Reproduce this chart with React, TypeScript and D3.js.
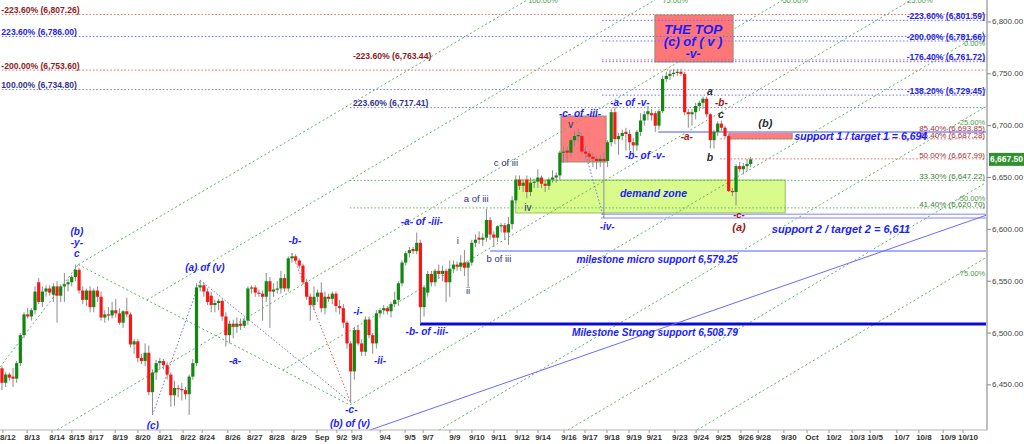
import React from "react";
import * as d3 from "d3";

type Candle = [number, number, number, number]; // open, high, low, close

const candles: Candle[] = [
  [6466,6468,6445,6452],[6452,6462,6448,6460],[6460,6462,6454,6457],[6458,6466,6448,6456],[6456,6473,6452,6471],
  [6471,6500,6468,6498],[6498,6520,6495,6518],[6518,6524,6514,6516],[6516,6524,6512,6522],[6522,6545,6518,6540],
  [6549,6553,6528,6530],[6530,6545,6525,6540],[6540,6546,6535,6543],[6543,6546,6536,6539],[6537,6548,6530,6545],
  [6545,6550,6510,6536],[6536,6547,6530,6545],[6545,6558,6530,6547],[6547,6552,6540,6549],[6549,6556,6545,6554],
  [6554,6566,6550,6561],[6561,6563,6538,6541],[6541,6545,6528,6532],[6532,6543,6526,6541],[6541,6545,6520,6525],
  [6525,6543,6520,6541],[6541,6545,6530,6535],[6535,6540,6512,6515],[6515,6522,6510,6518],[6518,6525,6512,6517],
  [6517,6530,6514,6522],[6522,6533,6515,6519],[6519,6524,6508,6510],[6510,6522,6505,6521],[6521,6534,6515,6518],
  [6518,6520,6486,6489],[6489,6494,6480,6492],[6492,6494,6472,6476],[6476,6480,6470,6473],[6473,6490,6468,6481],
  [6481,6488,6440,6443],[6443,6465,6421,6462],[6462,6474,6455,6471],[6471,6476,6465,6473],[6473,6475,6465,6469],
  [6469,6472,6455,6460],[6460,6462,6429,6440],[6440,6454,6430,6447],[6447,6450,6438,6446],[6446,6452,6435,6445],
  [6445,6448,6436,6441],[6441,6460,6421,6458],[6458,6475,6455,6471],[6471,6548,6468,6544],[6544,6551,6540,6546],
  [6546,6549,6535,6540],[6540,6543,6527,6530],[6536,6540,6520,6527],[6527,6532,6520,6529],[6529,6533,6522,6531],
  [6531,6533,6512,6516],[6516,6520,6487,6498],[6498,6512,6490,6509],[6509,6513,6495,6506],[6506,6515,6500,6509],
  [6509,6514,6503,6507],[6507,6515,6505,6512],[6512,6545,6508,6543],[6543,6546,6538,6544],[6544,6546,6535,6539],
  [6539,6542,6535,6538],[6538,6541,6512,6535],[6535,6558,6530,6550],[6550,6554,6505,6540],[6540,6548,6535,6542],
  [6542,6550,6538,6543],[6543,6560,6538,6553],[6553,6557,6540,6543],[6543,6574,6540,6572],[6572,6577,6568,6574],
  [6574,6576,6568,6570],[6570,6572,6562,6565],[6565,6567,6547,6549],[6549,6552,6532,6535],[6535,6538,6512,6527],
  [6527,6545,6522,6535],[6535,6542,6530,6539],[6539,6549,6520,6524],[6524,6540,6518,6535],[6535,6538,6530,6533],
  [6533,6540,6528,6538],[6538,6540,6520,6526],[6526,6532,6518,6524],[6524,6528,6505,6510],[6510,6512,6485,6490],
  [6490,6492,6433,6463],[6463,6506,6455,6503],[6503,6508,6488,6490],[6490,6494,6478,6482],[6482,6516,6478,6513],
  [6513,6516,6495,6498],[6498,6500,6480,6490],[6490,6522,6485,6519],[6519,6524,6515,6522],[6522,6527,6518,6524],
  [6524,6526,6518,6521],[6521,6530,6515,6528],[6528,6540,6525,6532],[6532,6550,6526,6548],[6548,6570,6545,6568],
  [6568,6579,6565,6577],[6577,6583,6573,6580],[6581,6583,6576,6579],[6579,6597,6576,6587],[6587,6590,6509,6525],
  [6525,6546,6516,6544],[6539,6560,6535,6557],[6557,6560,6545,6549],[6549,6562,6545,6560],[6560,6566,6553,6557],
  [6557,6565,6550,6560],[6560,6562,6530,6549],[6549,6570,6535,6562],[6562,6570,6558,6566],[6566,6569,6560,6564],
  [6564,6575,6560,6568],[6568,6580,6555,6563],[6563,6570,6544,6568],[6568,6590,6565,6587],[6587,6595,6583,6590],
  [6592,6598,6586,6590],[6590,6596,6584,6592],[6592,6620,6588,6609],[6609,6612,6590,6595],[6595,6598,6583,6592],
  [6592,6604,6588,6603],[6603,6606,6597,6604],[6604,6606,6590,6597],[6597,6612,6585,6605],[6605,6632,6600,6628],
  [6628,6652,6625,6648],[6648,6652,6638,6642],[6642,6648,6636,6645],[6648,6652,6630,6636],[6636,6650,6632,6645],
  [6645,6649,6640,6646],[6646,6658,6640,6650],[6650,6652,6640,6644],[6644,6648,6636,6642],[6642,6650,6638,6648],
  [6648,6657,6645,6650],[6650,6655,6645,6652],[6652,6676,6648,6674],[6674,6680,6664,6675],[6676,6680,6665,6674],
  [6674,6688,6670,6686],[6686,6695,6680,6690],[6690,6697,6684,6691],[6690,6693,6672,6675],[6675,6680,6668,6673],
  [6673,6676,6664,6670],[6670,6674,6660,6668],[6668,6672,6658,6666],[6666,6672,6660,6668],[6668,6674,6611,6666],
  [6666,6686,6660,6684],[6684,6716,6680,6713],[6713,6718,6682,6687],[6687,6693,6672,6690],[6690,6696,6686,6693],
  [6694,6698,6676,6692],[6692,6696,6676,6684],[6684,6688,6672,6681],[6681,6696,6676,6694],[6694,6712,6690,6705],
  [6705,6714,6700,6711],[6711,6719,6705,6714],[6712,6716,6705,6710],[6712,6714,6694,6700],[6700,6716,6696,6714],
  [6714,6748,6712,6745],[6745,6752,6742,6748],[6748,6754,6744,6750],[6750,6755,6747,6751],[6751,6755,6748,6752],
  [6752,6755,6748,6750],[6750,6752,6710,6713],[6713,6716,6698,6711],[6711,6716,6700,6713],[6713,6722,6706,6719],
  [6719,6724,6714,6722],[6722,6728,6716,6726],[6726,6728,6708,6711],[6711,6712,6678,6686],[6686,6696,6678,6694],
  [6694,6704,6690,6702],[6702,6705,6694,6698],[6698,6700,6688,6690],[6690,6692,6636,6637],[6637,6640,6632,6636],
  [6636,6663,6623,6661],[6661,6665,6655,6658],[6658,6664,6653,6661],[6661,6668,6656,6663],[6663,6670,6660,6667.5],
];

const dateTicks: [number, string][] = [
  [1.6,"8/12"],[8.2,"8/13"],[15,"8/14"],[20.4,"8/15"],[25.6,"8/17"],[32.2,"8/19"],[38.4,"8/20"],[44.4,"8/21"],
  [50.7,"8/22"],[55.9,"8/24"],[62.9,"8/26"],[68.9,"8/27"],[74.9,"8/28"],[80.9,"8/29"],[87.2,"Sep"],[92.6,"9/2"],
  [96.7,"9/3"],[104.4,"9/4"],[111.2,"9/5"],[116.1,"9/7"],[123.4,"9/9"],[129.4,"9/10"],[135.4,"9/11"],[141.7,"9/12"],
  [147.4,"9/14"],[154.5,"9/16"],[160.2,"9/17"],[166.2,"9/18"],[172.2,"9/19"],[177.7,"9/21"],[184.7,"9/23"],
  [190.5,"9/24"],[196.5,"9/25"],[202.7,"9/26"],[207.4,"9/28"],[214.4,"9/30"],[220.7,"Oct"],[226.7,"10/2"],
  [233,"10/3"],[237.9,"10/5"],[245.2,"10/7"],[251.2,"10/8"],[257.8,"10/9"],[263.2,"10/10"],
];

const priceTicks: number[] = [6450, 6500, 6550, 6600, 6650, 6700, 6750, 6800];
const lastPrice = 6667.5;

const RED_DOT = "#e06a6a", BLUE_DOT = "#6e6eff", NAVY_DOT = "#7a7ac8", GREEN_DOT = "#62b562";
const BLUE = "#1c1cff", NAVY = "#30307a", DRED = "#a31515", DARK = "#2a2a2a";

type Fib = { price: number; from: number; stroke: string; label: string; lc: string; side: "left" | "right"; at?: number; size: number; bold: boolean };
const fibLines: Fib[] = [
  { price: 6807.26, from: -1, stroke: RED_DOT, label: "-223.60% (6,807.26)", lc: "#8e1b1b", side: "left", at: -1, size: 8.6, bold: true },
  { price: 6786.0, from: -1, stroke: BLUE_DOT, label: "223.60% (6,786.00)", lc: "#2424e6", side: "left", at: -1, size: 8.6, bold: true },
  { price: 6753.6, from: -1, stroke: RED_DOT, label: "-200.00% (6,753.60)", lc: "#8e1b1b", side: "left", at: -1, size: 8.6, bold: true },
  { price: 6734.8, from: -1, stroke: NAVY_DOT, label: "100.00% (6,734.80)", lc: "#34348c", side: "left", at: -1, size: 8.6, bold: true },
  { price: 6763.44, from: 163.5, stroke: RED_DOT, label: "-223.60% (6,763.44)", lc: "#8e1b1b", side: "left", at: 94.8, size: 8.6, bold: true },
  { price: 6717.41, from: 94.8, stroke: NAVY_DOT, label: "223.60% (6,717.41)", lc: "#34348c", side: "left", at: 94.8, size: 8.6, bold: true },
  { price: 6801.59, from: 163.5, stroke: BLUE_DOT, label: "-223.60% (6,801.59)", lc: "#2424e6", side: "right", size: 8.6, bold: true },
  { price: 6781.66, from: 163.5, stroke: BLUE_DOT, label: "-200.00% (6,781.66)", lc: "#2424e6", side: "right", size: 8.6, bold: true },
  { price: 6761.72, from: 163.5, stroke: BLUE_DOT, label: "-176.40% (6,761.72)", lc: "#2424e6", side: "right", size: 8.6, bold: true },
  { price: 6729.45, from: 163.5, stroke: BLUE_DOT, label: "-138.20% (6,729.45)", lc: "#2424e6", side: "right", size: 8.6, bold: true },
  { price: 6693.85, from: 195.7, stroke: RED_DOT, label: "85.40% (6,693.85)", lc: "#a23030", side: "right", size: 8, bold: false },
  { price: 6687.28, from: 195.7, stroke: RED_DOT, label: "76.40% (6,687.28)", lc: "#a23030", side: "right", size: 8, bold: false },
  { price: 6667.99, from: 195.7, stroke: RED_DOT, label: "50.00% (6,667.99)", lc: "#a23030", side: "right", size: 8, bold: false },
  { price: 6647.22, from: 94.8, stroke: GREEN_DOT, label: "33.30% (6,647.22)", lc: "#3a7d3a", side: "right", size: 8, bold: false },
  { price: 6620.7, from: 94.8, stroke: GREEN_DOT, label: "41.40% (6,620.70)", lc: "#3a7d3a", side: "right", size: 8, bold: false },
];

const supportLines = [
  { price: 6694, from: 178.8, stroke: "#a3a8ff", width: 2 },
  { price: 6614.5, from: 163.2, stroke: "#a8adff", width: 1.5 },
  { price: 6611, from: 163.2, stroke: "#a8adff", width: 1.5 },
  { price: 6579.25, from: 133, stroke: "#a8adff", width: 2 },
  { price: 6508.79, from: 113.9, stroke: "#0a0ad0", width: 3 },
];

const trendLines: [number, number, number, number][] = [[100.3, 6406.5, 268.4, 6613.9]];

const channelLines: [number, number, number, number][] = [
  [-0.54, 6467.3, 20.8, 6566],
  [20.8, 6566, 143.1, 6821.2],
  [20.8, 6566, 94.8, 6430.6],
  [39.5, 6531.9, 177.9, 6821.2],
  [15, 6406.5, 212.8, 6821.2],
  [76.6, 6464.4, 247.7, 6821.2],
  [94.8, 6430.6, 268.4, 6792.3],
  [119.1, 6406.5, 268.4, 6719],
  [154.2, 6406.5, 268.4, 6645.7],
  [189.4, 6406.5, 268.4, 6573.4],
];

const channelTags = [
  { t: "100.00%", i: 147.4, p: 6820.3, anchor: "middle" },
  { t: "75.00%", i: 183.4, p: 6820.3, anchor: "middle" },
  { t: "50.00%", i: 216.1, p: 6820.3, anchor: "middle" },
  { t: "25.00%", i: 250.1, p: 6820.3, anchor: "middle" },
  { t: "0.00%", i: 267.9, p: 6778.8, anchor: "end" },
  { t: "-25.00%", i: 267.9, p: 6702.6, anchor: "end" },
  { t: "-50.00%", i: 267.9, p: 6629.3, anchor: "end" },
  { t: "-75.00%", i: 267.9, p: 6557.9, anchor: "end" },
];

const waveLinks = [
  { a: [41, 6421], b: [54, 6551], c: "#6f6fd6" },
  { a: [54, 6551], b: [95, 6433], c: "#6f6fd6" },
  { a: [79, 6577], b: [95, 6433], c: "#d65a5a" },
  { a: [157, 6697], b: [164, 6611], c: "#6f6fd6" },
];

const zones = [
  { i1: 140, i2: 213.4, p1: 6647.6, p2: 6615.8, fill: "#d8fb8c", stroke: "#92c25c" },
  { i1: 152.3, i2: 164.6, p1: 6709.3, p2: 6665, fill: "#ff7d7d", stroke: "#8f8f6f" },
  { i1: 177.9, i2: 199.2, p1: 6806.7, p2: 6761.4, fill: "#ff7676", stroke: "#8f8f6f" },
  { i1: 198.1, i2: 215.3, p1: 6693.85, p2: 6687.28, fill: "#ff7d7d", stroke: "#8f8f6f" },
];

type Lbl = { t: string; i: number; p: number; c: string; s: number; w: string; it: boolean };
const L = (t: string, i: number, p: number, c: string, s = 10, w = "bold", it = true): Lbl => ({ t, i, p, c, s, w, it });
const labels: Lbl[] = [
  L("(b)", 20.4, 6598, BLUE), L("-y-", 20.4, 6587.8, BLUE), L("c", 20.4, 6577.2, BLUE),
  L("(a) of (v)", 55.3, 6563.2, BLUE), L("-b-", 79.8, 6589.3, BLUE), L("-a-", 63.5, 6474, BLUE),
  L("(c)", 41.1, 6411.3, BLUE), L("-c-", 95.2, 6425.8, BLUE), L("(b) of (v)", 94.8, 6412.3, BLUE),
  L("-i-", 97, 6520.8, BLUE), L("-ii-", 103, 6473.5, BLUE),
  L("-a- of -iii-", 114.4, 6607.6, BLUE), L("-b- of -iii-", 115.8, 6501.5, BLUE),
  L("-c- of -iii-", 157.5, 6711.7, BLUE), L("-iv-", 164.9, 6602.3, BLUE),
  L("-a- of -v-", 171.1, 6722.8, BLUE), L("-b- of -v-", 175.2, 6671.7, BLUE),
  L("demand zone", 177.5, 6635.1, BLUE, 10.5),
  L("THE TOP", 188.3, 6793.2, BLUE, 13.5), L("(c) of ( v )", 188.3, 6780.7, BLUE, 13), L("-v-", 188.3, 6769.6, BLUE, 12),
  L("support 1 / target 1 = 6,694", 234, 6689.6, BLUE, 10.5),
  L("support 2 / target 2 = 6,611", 228.6, 6600.8, BLUE, 11),
  L("milestone micro support 6,579.25", 178.5, 6571.4, BLUE, 10.2),
  L("Milestone Strong support 6,508.79", 177.9, 6500.1, BLUE, 10.2),
  L("i", 124.2, 6589.7, NAVY, 9.5, "normal", false), L("ii", 127, 6540.6, NAVY, 9.5, "normal", false),
  L("a of iii", 129.2, 6629.8, NAVY, 9.5, "normal", false), L("b of iii", 135.4, 6571.9, NAVY, 9.5, "normal", false),
  L("c of iii", 137.3, 6664, NAVY, 9.5, "normal", false), L("iv", 143.3, 6621, NAVY, 10, "normal", false),
  L("v", 155, 6701.6, NAVY, 10, "normal", false),
  L("-a-", 186.6, 6690, DRED, 10), L("-b-", 196, 6721.9, DRED, 10), L("-c-", 200.8, 6614.3, DRED, 9.5),
  L("(a)", 200.8, 6602.3, DRED, 11),
  L("a", 192.9, 6733.9, DARK, 10.5), L("b", 192.9, 6669.8, DARK, 10.5), L("c", 195.9, 6711.3, DARK, 10.5),
  L("(b)", 208, 6703, DARK, 11),
];

const FONT = "'Liberation Sans', Arial, Helvetica, sans-serif";

export default function App() {
  const W = 1024, H = 444, R = 987, B = 430;
  const x = d3.scaleLinear().domain([0, candles.length - 1]).range([2, 750.7]);
  const y = d3.scaleLinear().domain([6406.5, 6821.2]).range([B, 0]);
  const bw = 3.2;
  const fmt = d3.format(",.2f");
  const seg = d3.line<[number, number]>().x((d) => x(d[0])).y((d) => y(d[1]));

  return (
    <svg width={W} height={H} style={{ position: "absolute", left: 0, top: 0, background: "#fff" }} fontFamily={FONT}>
      <defs>
        <clipPath id="plot"><rect x={0} y={0} width={R} height={B} /></clipPath>
      </defs>
      <rect x={0} y={0} width={W} height={H} fill="#fff" />
      <g clipPath="url(#plot)">
        {zones.map((z, k) => (
          <rect key={"z" + k} x={x(z.i1)} y={y(z.p1)} width={x(z.i2) - x(z.i1)} height={y(z.p2) - y(z.p1)}
            fill={z.fill} stroke={z.stroke} strokeWidth={1} />
        ))}
        {channelLines.map((l, k) => (
          <path key={"c" + k} d={seg([[l[0], l[1]], [l[2], l[3]]]) || ""} stroke={GREEN_DOT} strokeWidth={1}
            strokeDasharray="2,2.5" fill="none" />
        ))}
        {fibLines.map((f, k) => (
          <line key={"f" + k} x1={x(f.from)} x2={R} y1={y(f.price)} y2={y(f.price)} stroke={f.stroke}
            strokeWidth={1} strokeDasharray="1.5,2" />
        ))}
        {supportLines.map((s, k) => (
          <line key={"s" + k} x1={x(s.from)} x2={R} y1={y(s.price)} y2={y(s.price)} stroke={s.stroke} strokeWidth={s.width} />
        ))}
        {trendLines.map((l, k) => (
          <path key={"t" + k} d={seg([[l[0], l[1]], [l[2], l[3]]]) || ""} stroke="#6a6aff" strokeWidth={1} fill="none" />
        ))}
        {waveLinks.map((w, k) => (
          <path key={"w" + k} d={seg([w.a as [number, number], w.b as [number, number]]) || ""} stroke={w.c}
            strokeWidth={1} strokeDasharray="1.5,2" fill="none" />
        ))}
        {candles.map((c, i) => {
          const [o, h, l, cl] = c;
          const up = cl >= o;
          const top = y(Math.max(o, cl));
          const bot = y(Math.min(o, cl));
          return (
            <g key={"k" + i}>
              <line x1={x(i)} x2={x(i)} y1={y(h)} y2={y(l)} stroke="#8c8c8c" strokeWidth={1} />
              <rect x={x(i) - bw / 2} y={top} width={bw} height={Math.max(1.2, bot - top)} fill={up ? "#118811" : "#ff1414"} />
            </g>
          );
        })}
        {fibLines.map((f, k) => (
          <text key={"fl" + k} x={f.side === "left" ? x(f.at as number) + 3 : R - 2} y={y(f.price) - 1.2}
            textAnchor={f.side === "left" ? "start" : "end"} fontSize={f.size} fontWeight={f.bold ? "bold" : "normal"}
            fill={f.lc}>{f.label}</text>
        ))}
        {channelTags.map((c, k) => (
          <text key={"ct" + k} x={x(c.i)} y={y(c.p)} textAnchor={c.anchor as any} dominantBaseline="central"
            fontSize={7.5} fill="#4d9d4d">{c.t}</text>
        ))}
        {labels.map((lb, k) => (
          <text key={"l" + k} x={x(lb.i)} y={y(lb.p)} textAnchor="middle" dominantBaseline="central" fontSize={lb.s}
            fontWeight={lb.w} fontStyle={lb.it ? "italic" : "normal"} fill={lb.c}>{lb.t}</text>
        ))}
      </g>
      <line x1={0} x2={R} y1={B} y2={B} stroke="#b4b4b4" strokeWidth={1} />
      <line x1={R} x2={R} y1={0} y2={B} stroke="#bdbdbd" strokeWidth={2} />
      {priceTicks.map((p) => (
        <g key={"pt" + p}>
          <line x1={R} x2={R + 4} y1={y(p)} y2={y(p)} stroke="#888" />
          <text x={992} y={y(p)} dominantBaseline="central" fontSize={8} fill="#444">{fmt(p)}</text>
        </g>
      ))}
      {dateTicks.map(([i, t]) => (
        <g key={"dt" + t}>
          <line x1={x(i) - 5} x2={x(i) - 5} y1={B} y2={B + 3} stroke="#999" />
          <text x={x(i)} y={B + 7.5} textAnchor="middle" dominantBaseline="central" fontSize={8} fontWeight="bold" fill="#333">{t}</text>
        </g>
      ))}
      <rect x={989} y={y(lastPrice) - 6.5} width={35} height={13} fill="#2f922f" />
      <text x={1006.5} y={y(lastPrice)} textAnchor="middle" dominantBaseline="central" fontSize={8.5} fontWeight="bold" fill="#fff">
        {fmt(lastPrice)}
      </text>
    </svg>
  );
}
